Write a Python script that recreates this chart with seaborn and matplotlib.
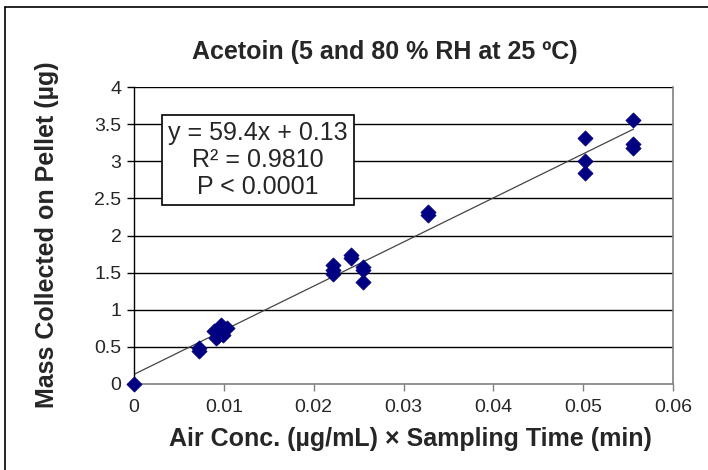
import numpy as np
import pandas as pd
import matplotlib
matplotlib.use("Agg")
import matplotlib.pyplot as plt
from matplotlib.lines import Line2D
import seaborn as sns

# Sampled dose (air concentration x sampling time) and collected mass
dose = [0.0,
        0.0072, 0.0072,
        0.0089, 0.0091, 0.0093, 0.0097, 0.0099, 0.0103,
        0.0222, 0.0222, 0.0222,
        0.0242, 0.0242,
        0.0255, 0.0255, 0.0255,
        0.0327, 0.0327,
        0.0502, 0.0502, 0.0502,
        0.0556, 0.0556, 0.0556]
mass = [0.0,
        0.49, 0.45,
        0.71, 0.62, 0.64, 0.79, 0.66, 0.75,
        1.60, 1.54, 1.48,
        1.74, 1.70,
        1.57, 1.53, 1.38,
        2.31, 2.27,
        3.31, 3.01, 2.84,
        3.55, 3.23, 3.18]

slope = 59.4
intercept = 0.13
fit_text = ["y = 59.4x + 0.13", "R\u00b2 = 0.9810", "P < 0.0001"]

x_ticks = [0, 0.01, 0.02, 0.03, 0.04, 0.05, 0.06]
x_tick_labels = ["0", "0.01", "0.02", "0.03", "0.04", "0.05", "0.06"]
y_ticks = [0, 0.5, 1, 1.5, 2, 2.5, 3, 3.5, 4]
y_tick_labels = ["0", "0.5", "1", "1.5", "2", "2.5", "3", "3.5", "4"]

df = pd.DataFrame({"dose": dose, "mass": mass})
fit_x = np.array([0.0, max(dose)])
fit_df = pd.DataFrame({"dose": fit_x, "mass": slope * fit_x + intercept})

sns.set_theme(style="white")
plt.rcParams["font.family"] = ["Liberation Sans", "DejaVu Sans"]

fig = plt.figure(figsize=(7.08, 4.70), dpi=100)
ax = fig.add_axes([134 / 708, 1 - 384 / 470, (673 - 134) / 708, (384 - 87) / 470])

# horizontal gridlines
for yv in y_ticks[1:]:
    ax.axhline(yv, color="black", lw=1.0, zorder=1)

sns.lineplot(data=fit_df, x="dose", y="mass", ax=ax, color="#444444",
             lw=0.9, zorder=2)
sns.scatterplot(data=df, x="dose", y="mass", ax=ax, marker="D", s=60,
                color="#000080", edgecolor="#000080", linewidth=0.5,
                zorder=3, clip_on=False)

ax.set_xlim(0, 0.06)
ax.set_ylim(0, 4)
ax.set_xticks(x_ticks)
ax.set_xticklabels(x_tick_labels, fontsize=14)
ax.set_yticks(y_ticks)
ax.set_yticklabels(y_tick_labels, fontsize=14)
ax.tick_params(axis="y", direction="out", length=5, width=1, color="black",
               left=True, pad=4)
ax.tick_params(axis="x", direction="out", length=5, width=1, color="#808080",
               bottom=True, pad=6)
ax.set_xlabel("")
ax.set_ylabel("")

ax.spines["left"].set_color("black")
ax.spines["left"].set_linewidth(1.0)
for side in ["bottom", "right"]:
    ax.spines[side].set_color("#808080")
    ax.spines[side].set_linewidth(1.2)
ax.spines["top"].set_visible(False)

# regression summary box
ax.text(0.0138, 3.02, "\n".join(fit_text), fontsize=18, ha="center",
        va="center", linespacing=1.15, zorder=5,
        bbox=dict(boxstyle="square,pad=0.25", facecolor="white",
                  edgecolor="black", linewidth=1.2))

fig.text(385 / 708, 1 - 52 / 470, "Acetoin (5 and 80 % RH at 25 \u00baC)",
         fontsize=18, fontweight="bold", ha="center", va="center")
fig.text(410 / 708, 1 - 439 / 470,
         "Air Conc. (\u00b5g/mL) \u00d7 Sampling Time (min)",
         fontsize=18, fontweight="bold", ha="center", va="center")
fig.text(47 / 708, 1 - 235 / 470, "Mass Collected on Pellet (\u00b5g)",
         fontsize=18, fontweight="bold", ha="center", va="center",
         rotation=90)

# outer chart frame (left and top edges)
fig.add_artist(Line2D([5 / 708, 5 / 708], [0, 1 - 7 / 470],
                      transform=fig.transFigure, color="black", lw=1.2))
fig.add_artist(Line2D([5 / 708, 1], [1 - 7 / 470, 1 - 7 / 470],
                      transform=fig.transFigure, color="black", lw=1.2))

fig.savefig("out.png", dpi=100)
